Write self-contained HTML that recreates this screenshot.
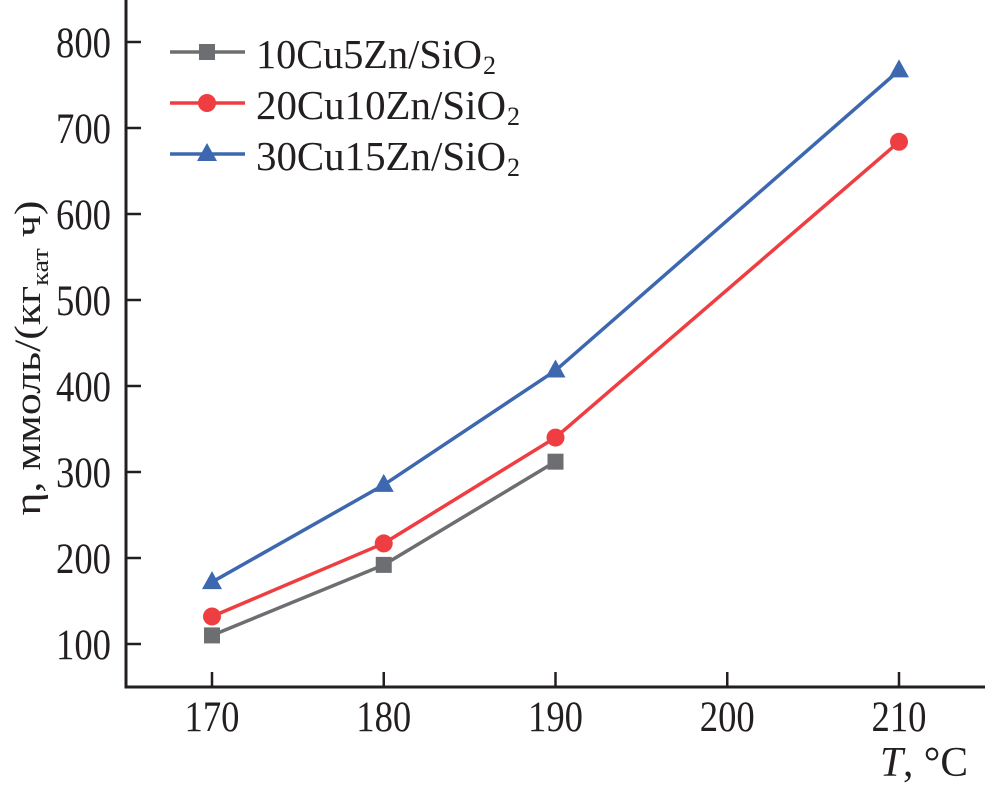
<!DOCTYPE html>
<html><head><meta charset="utf-8"><style>
body{margin:0;background:#fff}
svg{display:block;font-family:"Liberation Serif",serif}
</style></head><body>
<svg width="985" height="787" viewBox="0 0 985 787" id="chart">
<g id="axes"></g><g id="series"></g><g id="legend"></g>
<text x="968" y="776" font-size="42" text-anchor="end" fill="#231f20" textLength="88" lengthAdjust="spacingAndGlyphs"><tspan font-style="italic">T</tspan>, °C</text>
<text transform="translate(40,358) rotate(-90)" font-size="37" text-anchor="middle" fill="#231f20" textLength="315" lengthAdjust="spacingAndGlyphs">η, ммоль/(кг<tspan font-size="24" dy="8">кат</tspan><tspan dy="-8"> ч)</tspan></text>
</svg>
<script>
const xCategories=[170,180,190,210];
const xTicks=[170,180,190,200,210];
const yTicks=[100,200,300,400,500,600,700,800];
const s1x=[170,180,190];
const s1=[110,192,312];
const s2=[132,217,340,684];
const s3=[172,285,418,767];
const names=["10Cu5Zn/SiO","20Cu10Zn/SiO","30Cu15Zn/SiO"];
const NS="http://www.w3.org/2000/svg";
const X=v=>212+(v-170)*17.175;
const Y=v=>644-(v-100)*0.86;
function mk(t,a,p){const e=document.createElementNS(NS,t);for(const k in a)e.setAttribute(k,a[k]);p.appendChild(e);return e;}
const ax=document.getElementById('axes');
const c="#231f20";
const yl=mk('line',{x1:126,y1:0,x2:126,y2:688,stroke:c,'stroke-width':3},ax);

const xl=mk('line',{x1:124.5,y1:687,x2:985,y2:687,stroke:c,'stroke-width':3},ax);

xTicks.forEach(v=>{
 mk('line',{x1:X(v),y1:687,x2:X(v),y2:672,stroke:c,'stroke-width':2.5},ax);
 const t=mk('text',{x:X(v),y:731,'font-size':43,'text-anchor':'middle',fill:c,textLength:55,lengthAdjust:'spacingAndGlyphs'},ax);t.textContent=v;
 
});
yTicks.forEach(v=>{
 mk('line',{x1:126,y1:Y(v),x2:141,y2:Y(v),stroke:c,'stroke-width':2.5},ax);
 const t=mk('text',{x:111,y:Y(v)+15,'font-size':43,'text-anchor':'end',fill:c,textLength:55,lengthAdjust:'spacingAndGlyphs'},ax);t.textContent=v;
 
});
const sg=document.getElementById('series');
function marker(type,x,y,col,p){
 if(type==0)return mk('rect',{x:x-8,y:y-8,width:16,height:16,fill:col},p);
 if(type==1)return mk('circle',{cx:x,cy:y,r:9,fill:col},p);
 return mk('polygon',{points:`${x},${y-11} ${x+10},${y+7} ${x-10},${y+7}`,fill:col},p);
}
const legendWidths=[226,250,250];
const series=[[s1x,s1,"#6d6e71"],[xCategories,s2,"#ef3e42"],[xCategories,s3,"#3d68b0"]];
series.forEach(([xs,ys,col],i)=>{
 const g=mk('g',{},sg);
 
 mk('polyline',{points:xs.map((x,j)=>X(x)+','+Y(ys[j])).join(' '),fill:'none',stroke:col,'stroke-width':3.5},g);
 xs.forEach((x,j)=>{const m=marker(i,X(x),Y(ys[j]),col,g);
  });
 const lg=document.getElementById('legend');
 const ly=52+i*51;
 const e=mk('g',{},lg);
 
 mk('line',{x1:170,y1:ly,x2:245,y2:ly,stroke:col,'stroke-width':3.5},e);
 marker(i,207,ly,col,e);
 const t=mk('text',{x:256,y:ly+16,'font-size':41,fill:c,textLength:legendWidths[i],lengthAdjust:'spacingAndGlyphs'},e);
 t.textContent=names[i];
 const s=mk('text',{x:256+legendWidths[i]+1,y:ly+22,'font-size':26,fill:c},e);s.textContent='2';
});
</script>
</body></html>
